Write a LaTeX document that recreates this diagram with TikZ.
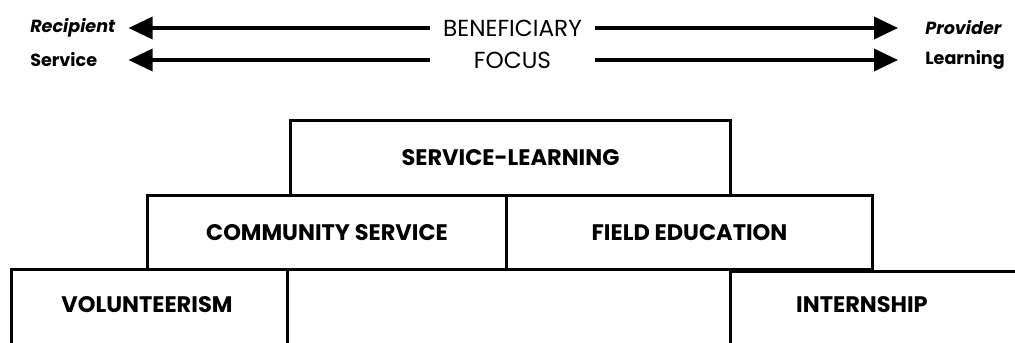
\documentclass[tikz,border=0pt]{standalone}
\usepackage{fontspec}
\setmainfont{Poppins}
\usetikzlibrary{arrows.meta,positioning}

\begin{document}
\begin{tikzpicture}[
    box/.style={rectangle, draw, line width=2.1pt, anchor=north west, inner sep=0pt, font=\fontsize{16}{19}\selectfont\bfseries},
    tag/.style={inner sep=0pt, font=\fontsize{16}{19}\selectfont\bfseries},
    side/.style={inner sep=0pt, text width=2.45cm, align=left, anchor=west, font=\fontsize{12.5}{15}\selectfont\bfseries},
    mid/.style={inner sep=0pt, text width=4.125cm, align=center, font=\fontsize{16.5}{19}\selectfont},
    arr/.style={-{Triangle[length=0.6cm, width=0.55cm]}, line width=2.4pt},
]
    \useasboundingbox (0,0) rectangle (25.375,-8.575);
    \clip (0,0) rectangle (25.375,-8.575);

    % Beneficiary scale
    \node[side] (recip) at (0.75,-0.7) {\itshape Recipient};
    \node[mid] (benef) at (12.8125,-0.7) {BENEFICIARY};
    \node[side] (prov) at (23.125,-0.7) {\itshape Provider};
    \draw[arr] (benef.west) -- (recip.east);
    \draw[arr, shorten >=0.675cm] (benef.east) -- (prov.west);

    % Focus scale
    \node[side] (serv) at (0.75,-1.5) {Service};
    \node[mid] (focus) at (12.8125,-1.5) {FOCUS};
    \node[side] (learn) at (23.125,-1.5) {Learning};
    \draw[arr] (focus.west) -- (serv.east);
    \draw[arr, shorten >=0.675cm] (focus.east) -- (learn.west);

    % Stacked programs
    \node[box, minimum width=11cm, minimum height=1.875cm] (sl) at (7.225,-2.975) {SERVICE-LEARNING};
    \node[box, minimum width=8.975cm, minimum height=1.85cm] (cs) at (3.65,-4.85) {COMMUNITY SERVICE};
    \node[box, minimum width=9.15cm, minimum height=1.85cm] (fe) at (12.625,-4.85) {FIELD EDUCATION};
    \node[box, minimum width=6.9cm, minimum height=3cm] (vol) at (0.25,-6.7) {};
    \node[box, minimum width=8cm, minimum height=3cm] (int) at (18.225,-6.75) {};
    \node[tag] (voltag) at (3.675,-7.625) {VOLUNTEERISM};
    \node[tag] (inttag) at (21.55,-7.625) {INTERNSHIP};

\end{tikzpicture}
\end{document}
